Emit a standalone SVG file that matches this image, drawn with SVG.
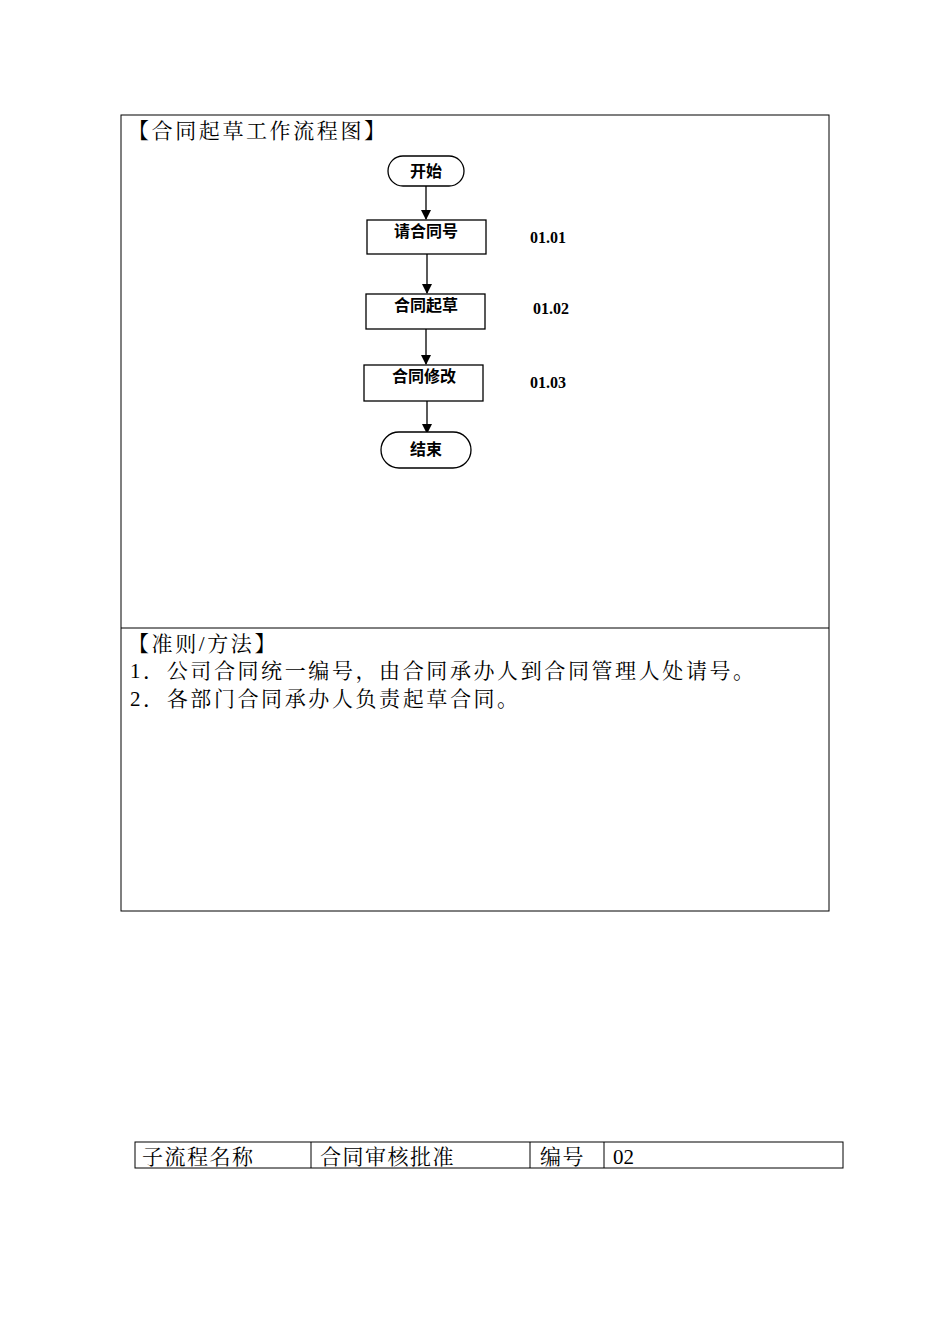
<svg xmlns="http://www.w3.org/2000/svg" width="950" height="1344" viewBox="0 0 950 1344">
<style>
.b{fill:none;stroke:#000;stroke-width:1}
.n{fill:#fff;stroke:#000;stroke-width:1.3}
.s{font-family:"Noto Sans CJK SC",sans-serif;font-size:16px;font-weight:bold;text-anchor:middle}
.m{font-family:"Liberation Serif",serif;font-size:16px;font-weight:bold}
.t{font-family:"Liberation Serif","Noto Serif CJK SC","Noto Sans CJK SC",serif;font-size:21px;letter-spacing:2.6px}
.c{stroke:#000;stroke-width:1.3;fill:none;marker-end:url(#a)}
</style>
<defs><marker id="a" markerWidth="10" markerHeight="10" refX="9" refY="5" orient="auto" markerUnits="userSpaceOnUse"><path d="M0,0 L10,5 L0,10 z"/></marker></defs>
<rect class="b" x="121" y="115" width="708" height="796" stroke="#555"/>
<line class="b" x1="121" y1="628" x2="829" y2="628" stroke="#555"/>
<text class="t" x="128" y="138">【合同起草工作流程图】</text>
<text class="t" x="128" y="651">【准则/方法】</text>
<text class="t" x="130" y="678">1．公司合同统一编号，由合同承办人到合同管理人处请号。</text>
<text class="t" x="130" y="706">2．各部门合同承办人负责起草合同。</text>
<g id="connectors">
<line class="c" x1="426" y1="186" x2="426" y2="219"/>
<line class="c" x1="427" y1="254" x2="427" y2="293"/>
<line class="c" x1="426" y1="329" x2="426" y2="364"/>
<line class="c" x1="427" y1="401" x2="427" y2="433"/>
</g>
<g id="start"><rect class="n" x="388" y="156" width="76" height="30" rx="15"/><text class="s" x="426" y="177">开始</text></g>
<g id="n1"><rect class="n" x="367" y="220" width="119" height="34"/><text class="s" x="426" y="237">请合同号</text><text class="m" x="530" y="243">01.01</text></g>
<g id="n2"><rect class="n" x="366" y="294" width="119" height="35"/><text class="s" x="426" y="311">合同起草</text><text class="m" x="533" y="314">01.02</text></g>
<g id="n3"><rect class="n" x="364" y="365" width="119" height="36"/><text class="s" x="424" y="382">合同修改</text><text class="m" x="530" y="388">01.03</text></g>
<g id="end"><rect class="n" x="381" y="432" width="90" height="36" rx="18"/><text class="s" x="426" y="455">结束</text></g>
<g id="table">
<rect class="b" x="135" y="1142" width="708" height="26" stroke="#555"/>
<line class="b" x1="311" y1="1142" x2="311" y2="1168"/>
<line class="b" x1="530" y1="1142" x2="530" y2="1168"/>
<line class="b" x1="604" y1="1142" x2="604" y2="1168"/>
<text class="t" x="142" y="1164" style="letter-spacing:1.5px">子流程名称</text>
<text class="t" x="320" y="1164" style="letter-spacing:1.5px">合同审核批准</text>
<text class="t" x="540" y="1164" style="letter-spacing:1.5px">编号</text>
<text class="t" x="613" y="1164" style="letter-spacing:0">02</text>
</g>
</svg>
